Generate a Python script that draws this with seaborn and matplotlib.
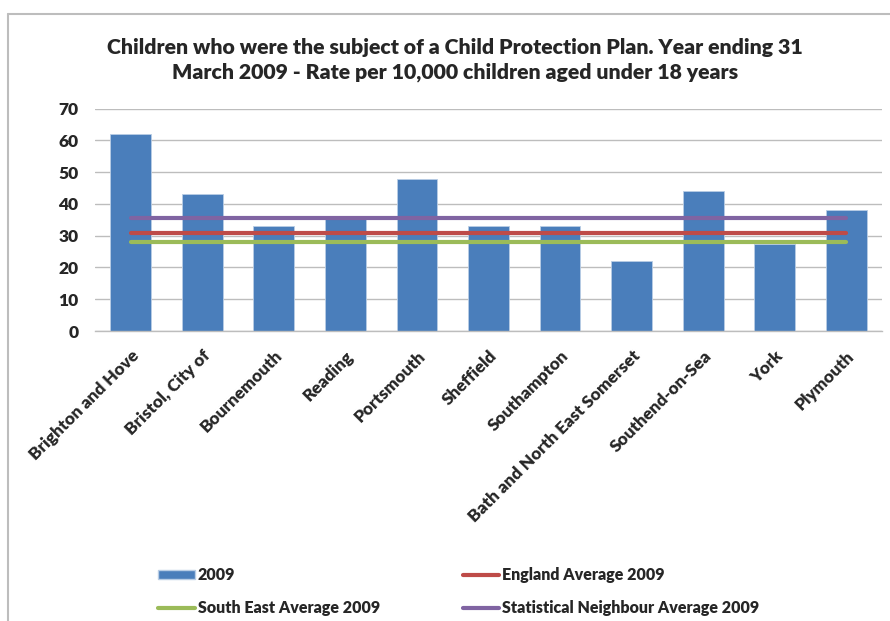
import numpy as np
import pandas as pd
import matplotlib
matplotlib.use("Agg")
import matplotlib.pyplot as plt
import seaborn as sns
from matplotlib.patches import Patch
from matplotlib.lines import Line2D

areas = ["Brighton and Hove", "Bristol, City of", "Bournemouth", "Reading",
         "Portsmouth", "Sheffield", "Southampton", "Bath and North East Somerset",
         "Southend-on-Sea", "York", "Plymouth"]
rate_2009 = [62, 43, 33, 36, 48, 33, 33, 22, 44, 27.5, 38]
england_avg = 31
south_east_avg = 28
stat_neighbour_avg = 35.6
yticks = [0, 10, 20, 30, 40, 50, 60, 70]
title = ("Children who were the subject of a Child Protection Plan. Year ending 31\n"
         "March 2009 - Rate per 10,000 children aged under 18 years")

sns.set_theme(style="white")
plt.rcParams['font.family'] = ['Lato', 'DejaVu Sans']
W = "heavy"
plt.rcParams['font.weight'] = W

fig = plt.figure(figsize=(8.9, 6.21), dpi=100)
ax = fig.add_axes([95/890, 1-331/621, (882-95)/890, (331-108.7)/621])

df = pd.DataFrame({"area": areas, "rate": rate_2009})
bar_color = "#4A7EBB"
sns.barplot(data=df, x="area", y="rate", color=bar_color, width=0.57,
            edgecolor="#B9CDE5", linewidth=0.6, saturation=1, ax=ax, zorder=2)

pos = np.arange(len(areas))
line_specs = [(england_avg, "#BE4B48"), (south_east_avg, "#9BBB59"),
              (stat_neighbour_avg, "#8064A2")]
for val, col in line_specs:
    sns.lineplot(x=pos, y=[val] * len(areas), color=col, linewidth=3.0, ax=ax, zorder=3)

ax.set_xlim(-0.5, len(areas) - 0.5)
ax.set_ylim(0, 70)
ax.set_yticks(yticks)
ax.set_yticklabels([str(t) for t in yticks], fontsize=12.5, fontweight=W)
ax.yaxis.grid(True, color="#BDBDBD", linewidth=1.0)
ax.set_axisbelow(True)
ax.set_xticks(pos)
ax.set_xticklabels(areas, rotation=45, ha="right", rotation_mode="anchor",
                   fontsize=12.4, fontweight=W)
ax.tick_params(axis="x", length=0, pad=12)
ax.tick_params(axis="y", length=0, pad=12)
ax.set_xlabel("")
ax.set_ylabel("")
for s in ["left", "right", "top"]:
    ax.spines[s].set_visible(False)
ax.spines["bottom"].set_color("#BDBDBD")
ax.spines["bottom"].set_linewidth(1.0)

fig.text(0.511, 1-60/621, title, ha="center", va="center", fontsize=15.3,
         fontweight=W, linespacing=1.3)

handles = [Patch(facecolor=bar_color, edgecolor="#B9CDE5"),
           Line2D([], [], color="#9BBB59", linewidth=3.0),
           Line2D([], [], color="#BE4B48", linewidth=3.0),
           Line2D([], [], color="#8064A2", linewidth=3.0)]
labels = ["2009", "South East Average 2009", "England Average 2009",
          "Statistical Neighbour Average 2009"]
fig.legend(handles, labels, ncol=2, loc="upper left",
           bbox_to_anchor=(144/890, 1-553/621), frameon=False,
           prop={"size": 11.5, "weight": W}, handlelength=2.3,
           handleheight=0.5, handletextpad=0.15, columnspacing=5.2,
           labelspacing=1.05)

# chart border (top and left only visible)
fig.add_artist(Line2D([8/890, 1.0], [1-14/621, 1-14/621], color="#BDBDBD",
                      linewidth=1.5, transform=fig.transFigure))
fig.add_artist(Line2D([8/890, 8/890], [1-14/621, 0], color="#BDBDBD",
                      linewidth=1.5, transform=fig.transFigure))

fig.savefig("out.png", dpi=100, facecolor="white")
